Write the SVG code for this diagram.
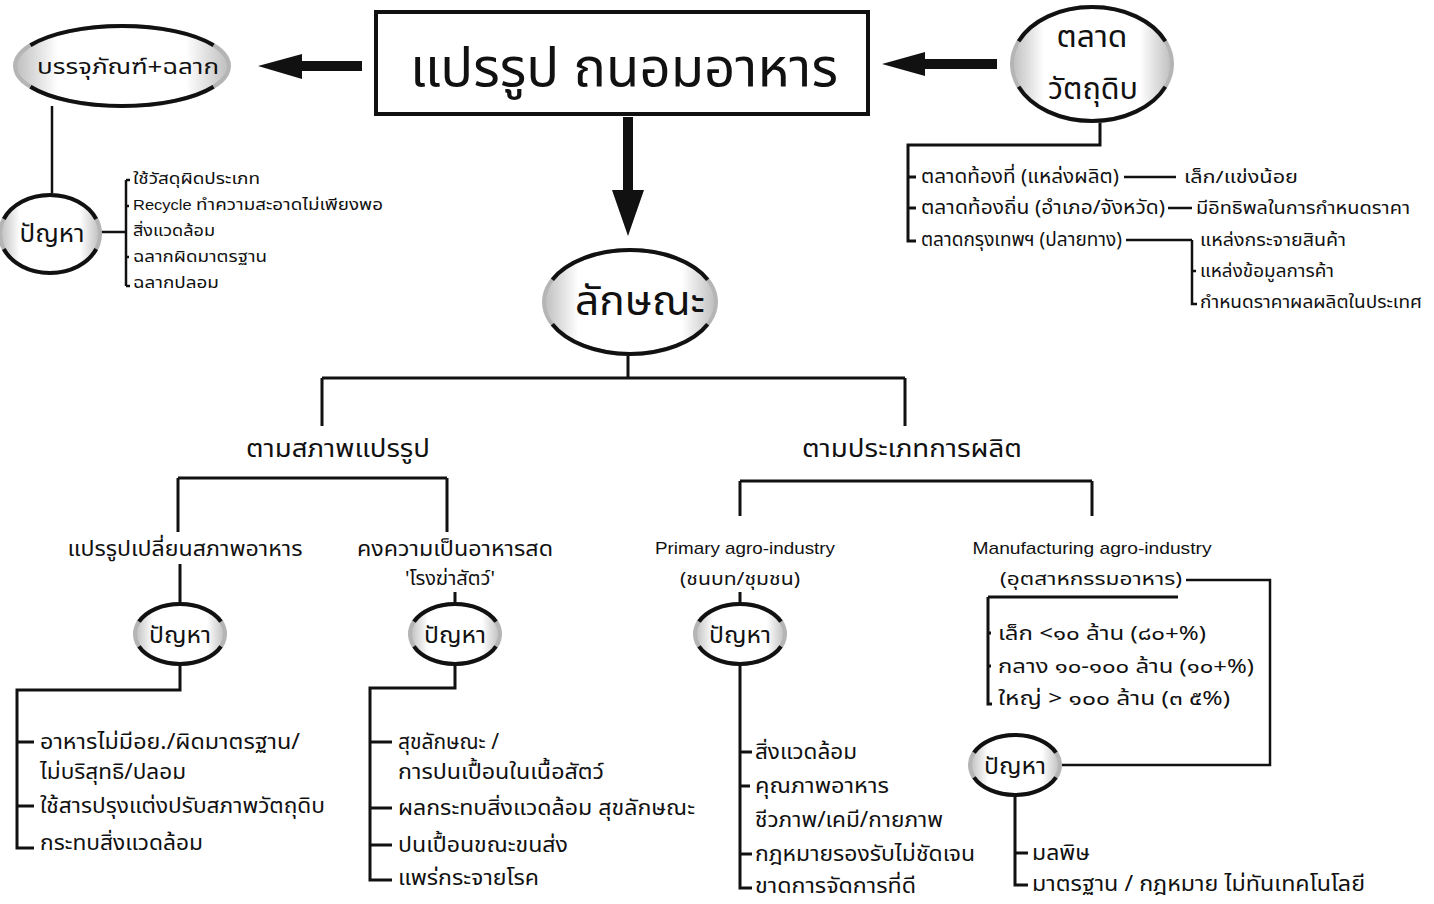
<svg xmlns="http://www.w3.org/2000/svg" width="1434" height="904" viewBox="0 0 1434 904">
<style>
text{font-family:"Noto Sans Thai","Loma","Garuda","DejaVu Sans","Noto Sans",sans-serif;fill:#111}
.en{font-family:"Liberation Sans","Noto Sans",sans-serif}
.ln{fill:none;stroke:#111;stroke-width:2.5}
.th{fill:none;stroke:#111;stroke-width:3}
.shade{fill:url(#sg);stroke:#b5b5b5;stroke-width:4}
.rim{fill:none;stroke:#111;stroke-width:4;stroke-dasharray:0 20 140 40 140 20}
.arrow{fill:#111}
</style>
<defs>
<linearGradient id="sg" x1="0" y1="0" x2="1" y2="0">
<stop offset="0" stop-color="#bdbdbd"/><stop offset="0.2" stop-color="#fff"/><stop offset="0.8" stop-color="#fff"/><stop offset="1" stop-color="#bdbdbd"/>
</linearGradient>
</defs>

<g id="connectors">
<polygon class="arrow" points="258,66 302,54 302,61 362,61 362,71 302,71 302,79"/>
<polygon class="arrow" points="882,64 925,52 925,59 997,59 997,69 925,69 925,76"/>
<polygon class="arrow" points="623,117 633,117 633,190 644,190 628,236 612,190 623,190"/>
<path class="ln" d="M52,106 V196"/>
<path class="ln" d="M100,232 H126 M126,180 V286 M126,180 H130 M126,206 H129 M126,257 H129 M126,286 H130"/>
<path class="th" d="M1100,120 V145 H908 V241 H916 M908,177 H916 M908,208 H916"/>
<path class="ln" d="M1124,177 H1176 M1168,208 H1192 M1126,240 H1192 M1192,240 V304 H1197 M1192,271 H1196"/>
<path class="th" d="M628,355 V378 M322,378 H905 M322,378 V426 M905,378 V426"/>
<path class="th" d="M178,478 H447 M178,478 V532 M447,478 V532"/>
<path class="th" d="M740,481 H1092 M740,481 V516 M1092,481 V516"/>
<path class="th" d="M180,564 V605 M455,592 V605 M740,592 V605"/>
<path class="th" d="M180,664 V690 H17 V848 H34 M17,742 H34 M17,806 H34"/>
<path class="th" d="M455,664 V688 H370 V880 H392 M370,742 H392 M370,808 H392 M370,845 H392"/>
<path class="th" d="M740,664 V888 H752 M740,752 H752 M740,786 H750 M740,854 H752"/>
<path class="ln" d="M1186,580 H1270 V765 H1062"/>
<path class="th" d="M988,597 H1178 M988,597 V704 H992 M988,633 H991 M988,666 H991"/>
<path class="th" d="M1015,795 V885 H1028 M1015,853 H1028"/>
</g>

<g id="main">
<rect x="376" y="12" width="492" height="102" fill="#fff" stroke="#111" stroke-width="4"/>
<text x="624" y="86" font-size="54" text-anchor="middle" textLength="428" lengthAdjust="spacingAndGlyphs">แปรรูป ถนอมอาหาร</text>
</g>

<g id="packaging">
<ellipse class="shade" cx="122" cy="66" rx="107" ry="40"/>
<ellipse class="rim" cx="122" cy="66" rx="107" ry="40" pathLength="360"/>
<text x="128" y="74" font-size="22" text-anchor="middle" textLength="182" lengthAdjust="spacingAndGlyphs">บรรจุภัณฑ์+ฉลาก</text>
</g>

<g id="pack-problem">
<ellipse class="shade" cx="50" cy="234" rx="50" ry="39"/>
<ellipse class="rim" cx="50" cy="234" rx="50" ry="39" pathLength="360"/>
<text x="52" y="242" font-size="25" text-anchor="middle" textLength="65" lengthAdjust="spacingAndGlyphs">ปัญหา</text>
</g>
<g id="pack-items" font-size="16">
<text x="133" y="184" textLength="127" lengthAdjust="spacingAndGlyphs">ใช้วัสดุผิดประเภท</text>
<text x="133" y="210" textLength="250" lengthAdjust="spacingAndGlyphs"><tspan class="en" font-size="14">Recycle </tspan>ทำความสะอาดไม่เพียงพอ</text>
<text x="133" y="236" textLength="82" lengthAdjust="spacingAndGlyphs">สิ่งแวดล้อม</text>
<text x="133" y="262" textLength="134" lengthAdjust="spacingAndGlyphs">ฉลากผิดมาตรฐาน</text>
<text x="133" y="288" textLength="86" lengthAdjust="spacingAndGlyphs">ฉลากปลอม</text>
</g>

<g id="raw-market">
<ellipse class="shade" cx="1092" cy="64" rx="80" ry="57"/>
<ellipse class="rim" cx="1092" cy="64" rx="80" ry="57" pathLength="360"/>
<text x="1092" y="47" font-size="30" text-anchor="middle" textLength="71" lengthAdjust="spacingAndGlyphs">ตลาด</text>
<text x="1093" y="99" font-size="30" text-anchor="middle" textLength="90" lengthAdjust="spacingAndGlyphs">วัตถุดิบ</text>
</g>
<g id="market-items" font-size="19">
<text x="921" y="183" textLength="198" lengthAdjust="spacingAndGlyphs">ตลาดท้องที่ (แหล่งผลิต)</text>
<text x="921" y="214" textLength="244" lengthAdjust="spacingAndGlyphs">ตลาดท้องถิ่น (อำเภอ/จังหวัด)</text>
<text x="921" y="246" textLength="201" lengthAdjust="spacingAndGlyphs">ตลาดกรุงเทพฯ (ปลายทาง)</text>
</g>
<g id="market-notes" font-size="17">
<text x="1184" y="183" textLength="114" lengthAdjust="spacingAndGlyphs">เล็ก/แข่งน้อย</text>
<text x="1196" y="214" textLength="214" lengthAdjust="spacingAndGlyphs">มีอิทธิพลในการกำหนดราคา</text>
<text x="1200" y="246" textLength="146" lengthAdjust="spacingAndGlyphs">แหล่งกระจายสินค้า</text>
<text x="1200" y="277" textLength="134" lengthAdjust="spacingAndGlyphs">แหล่งข้อมูลการค้า</text>
<text x="1200" y="308" textLength="222" lengthAdjust="spacingAndGlyphs">กำหนดราคาผลผลิตในประเทศ</text>
</g>

<g id="character">
<ellipse class="shade" cx="630" cy="302" rx="86" ry="52"/>
<ellipse class="rim" cx="630" cy="302" rx="86" ry="52" pathLength="360"/>
<text x="640" y="315" font-size="41" text-anchor="middle" textLength="130" lengthAdjust="spacingAndGlyphs">ลักษณะ</text>
</g>

<g id="by-state"><text x="338" y="457" font-size="24" text-anchor="middle" textLength="184" lengthAdjust="spacingAndGlyphs">ตามสภาพแปรรูป</text></g>
<g id="by-type"><text x="912" y="457" font-size="24" text-anchor="middle" textLength="220" lengthAdjust="spacingAndGlyphs">ตามประเภทการผลิต</text></g>

<g id="transform"><text x="185" y="556" font-size="21" text-anchor="middle" textLength="235" lengthAdjust="spacingAndGlyphs">แปรรูปเปลี่ยนสภาพอาหาร</text></g>
<g id="fresh">
<text x="455" y="556" font-size="21" text-anchor="middle" textLength="196" lengthAdjust="spacingAndGlyphs">คงความเป็นอาหารสด</text>
<text x="450" y="585" font-size="19" text-anchor="middle" textLength="90" lengthAdjust="spacingAndGlyphs">'โรงฆ่าสัตว์'</text>
</g>
<g id="primary">
<text x="745" y="554" font-size="17" class="en" text-anchor="middle" textLength="180" lengthAdjust="spacingAndGlyphs">Primary agro-industry</text>
<text x="740" y="585" font-size="18" text-anchor="middle" textLength="120" lengthAdjust="spacingAndGlyphs">(ชนบท/ชุมชน)</text>
</g>
<g id="manufacturing">
<text x="1092" y="554" font-size="17" class="en" text-anchor="middle" textLength="239" lengthAdjust="spacingAndGlyphs">Manufacturing agro-industry</text>
<text x="1000" y="585" font-size="18" textLength="182" lengthAdjust="spacingAndGlyphs">(อุตสาหกรรมอาหาร)</text>
</g>
<g id="sizes" font-size="20">
<text x="998" y="640" textLength="208" lengthAdjust="spacingAndGlyphs">เล็ก &lt;๑๐ ล้าน (๘๐+%)</text>
<text x="998" y="673" textLength="256" lengthAdjust="spacingAndGlyphs">กลาง ๑๐-๑๐๐ ล้าน (๑๐+%)</text>
<text x="998" y="705" textLength="232" lengthAdjust="spacingAndGlyphs">ใหญ่ &gt; ๑๐๐ ล้าน (๓ ๕%)</text>
</g>

<g id="problem1">
<ellipse class="shade" cx="180" cy="634" rx="45" ry="30"/>
<ellipse class="rim" cx="180" cy="634" rx="45" ry="30" pathLength="360"/>
<text x="180" y="643" font-size="23" text-anchor="middle" textLength="62" lengthAdjust="spacingAndGlyphs">ปัญหา</text>
</g>
<g id="problem2">
<ellipse class="shade" cx="455" cy="634" rx="45" ry="30"/>
<ellipse class="rim" cx="455" cy="634" rx="45" ry="30" pathLength="360"/>
<text x="455" y="643" font-size="23" text-anchor="middle" textLength="62" lengthAdjust="spacingAndGlyphs">ปัญหา</text>
</g>
<g id="problem3">
<ellipse class="shade" cx="740" cy="634" rx="45" ry="30"/>
<ellipse class="rim" cx="740" cy="634" rx="45" ry="30" pathLength="360"/>
<text x="740" y="643" font-size="23" text-anchor="middle" textLength="62" lengthAdjust="spacingAndGlyphs">ปัญหา</text>
</g>
<g id="problem4">
<ellipse class="shade" cx="1015" cy="765" rx="45" ry="30"/>
<ellipse class="rim" cx="1015" cy="765" rx="45" ry="30" pathLength="360"/>
<text x="1015" y="774" font-size="23" text-anchor="middle" textLength="62" lengthAdjust="spacingAndGlyphs">ปัญหา</text>
</g>

<g id="items1" font-size="21">
<text x="40" y="749" textLength="260" lengthAdjust="spacingAndGlyphs">อาหารไม่มีอย./ผิดมาตรฐาน/</text>
<text x="40" y="779" textLength="146" lengthAdjust="spacingAndGlyphs">ไม่บริสุทธิ/ปลอม</text>
<text x="40" y="813" textLength="285" lengthAdjust="spacingAndGlyphs">ใช้สารปรุงแต่งปรับสภาพวัตถุดิบ</text>
<text x="40" y="850" textLength="163" lengthAdjust="spacingAndGlyphs">กระทบสิ่งแวดล้อม</text>
</g>
<g id="items2" font-size="21">
<text x="398" y="749">สุขลักษณะ /</text>
<text x="398" y="779" textLength="206" lengthAdjust="spacingAndGlyphs">การปนเปื้อนในเนื้อสัตว์</text>
<text x="398" y="815" textLength="297" lengthAdjust="spacingAndGlyphs">ผลกระทบสิ่งแวดล้อม สุขลักษณะ</text>
<text x="398" y="852" textLength="170" lengthAdjust="spacingAndGlyphs">ปนเปื้อนขณะขนส่ง</text>
<text x="398" y="885" textLength="141" lengthAdjust="spacingAndGlyphs">แพร่กระจายโรค</text>
</g>
<g id="items3" font-size="21">
<text x="755" y="759" textLength="102" lengthAdjust="spacingAndGlyphs">สิ่งแวดล้อม</text>
<text x="755" y="793" textLength="134" lengthAdjust="spacingAndGlyphs">คุณภาพอาหาร</text>
<text x="755" y="827" textLength="188" lengthAdjust="spacingAndGlyphs">ชีวภาพ/เคมี/กายภาพ</text>
<text x="755" y="861" textLength="220" lengthAdjust="spacingAndGlyphs">กฎหมายรองรับไม่ชัดเจน</text>
<text x="755" y="893" textLength="161" lengthAdjust="spacingAndGlyphs">ขาดการจัดการที่ดี</text>
</g>
<g id="items4" font-size="21">
<text x="1032" y="860" textLength="58" lengthAdjust="spacingAndGlyphs">มลพิษ</text>
<text x="1032" y="891" textLength="333" lengthAdjust="spacingAndGlyphs">มาตรฐาน / กฎหมาย ไม่ทันเทคโนโลยี</text>
</g>
</svg>
